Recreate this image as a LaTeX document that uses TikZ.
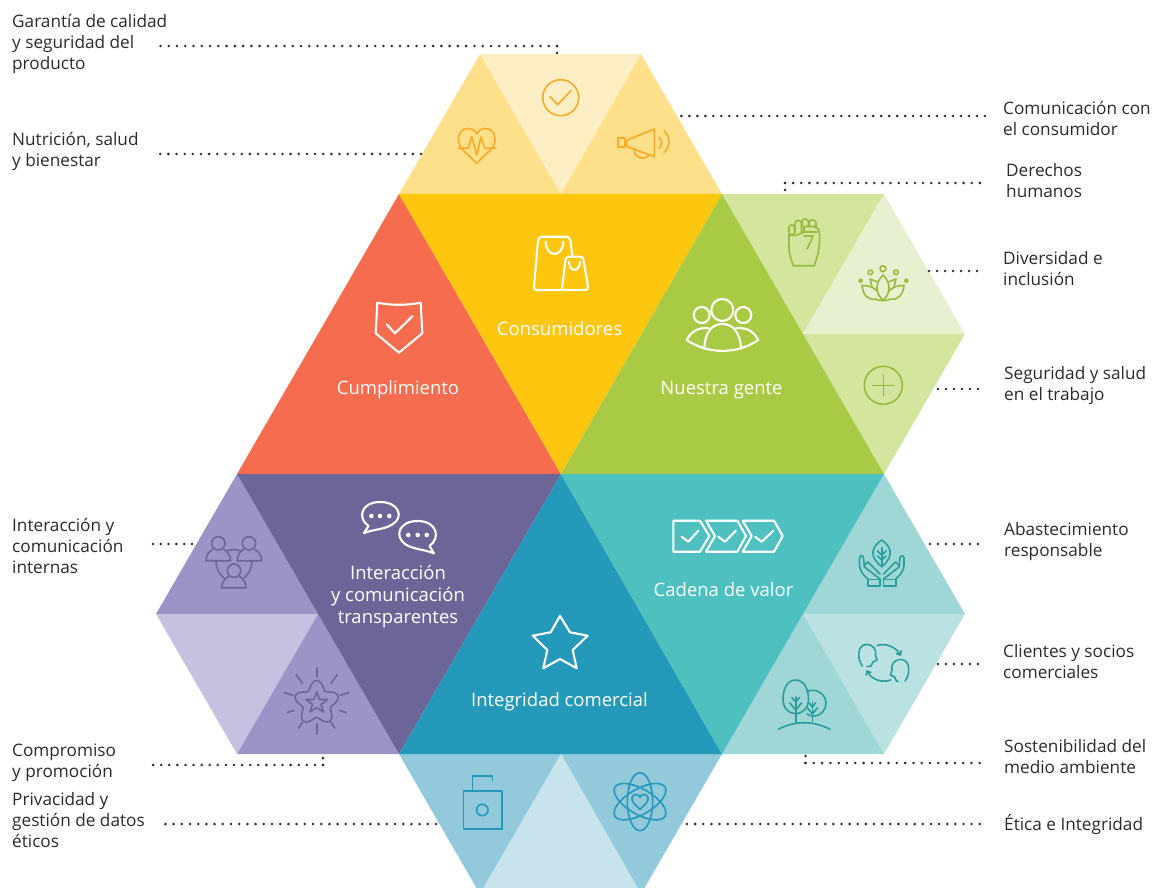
\documentclass[tikz,border=0pt]{standalone}
\usepackage{fontspec}
\setmainfont{Open Sans}
\usetikzlibrary{arrows.meta}
\definecolor{cOr}{HTML}{F56C4E}
\definecolor{cYe}{HTML}{FFC60F}
\definecolor{cYeA}{HTML}{FEE08A}
\definecolor{cYeB}{HTML}{FDEFC3}
\definecolor{cYeI}{HTML}{FBA926}
\definecolor{cGr}{HTML}{A9CA44}
\definecolor{cGrA}{HTML}{D4E59E}
\definecolor{cGrB}{HTML}{E8F1CF}
\definecolor{cGrI}{HTML}{98B93E}
\definecolor{cPu}{HTML}{6C6698}
\definecolor{cPuA}{HTML}{9C94C6}
\definecolor{cPuB}{HTML}{C5C2E1}
\definecolor{cBl}{HTML}{2499BA}
\definecolor{cBlA}{HTML}{92C9DB}
\definecolor{cBlB}{HTML}{C7E4ED}
\definecolor{cTe}{HTML}{4EC0C0}
\definecolor{cTeA}{HTML}{9ED7D5}
\definecolor{cTeB}{HTML}{BBE2E3}
\definecolor{cTeI}{HTML}{2A9D9C}
\definecolor{cTx}{HTML}{2B2B2B}
\tikzset{
  x=1pt,y=-1pt,
  lab/.style={anchor=west,inner sep=0pt,align=left,text=cTx,font=\fontsize{17.2}{21}\selectfont},
  mainlab/.style={inner sep=0pt,align=center,text=white,font=\fontsize{18.5}{22}\selectfont},
  leader/.style={draw=cTx,line width=2.8pt,line cap=round,dash pattern=on 0pt off #1},
  wicon/.style={draw=white,line width=2.1pt,line join=round,line cap=round},
  icon/.style={line width=1.6pt,line join=round,line cap=round},
  yicon/.style={icon,draw=cYeI},
  gicon/.style={icon,draw=cGrI},
  picon/.style={icon,draw=cPu},
  ticon/.style={icon,draw=cTeI},
  bicon/.style={icon,draw=cBl}
}
\begin{document}
\begin{tikzpicture}
\useasboundingbox (0,0) rectangle (1168,888);
\clip (0,0) rectangle (1168,888);
% outer triangles
\fill[cYeA] (399,194)--(561,194)--(480,54)--cycle;
\fill[cYeB] (480,54)--(641,54)--(561,194)--cycle;
\fill[cYeA] (561,194)--(722,194)--(641,54)--cycle;
\fill[cGrA] (722,194)--(884,194)--(803,334)--cycle;
\fill[cGrB] (884,194)--(965,334)--(803,334)--cycle;
\fill[cGrA] (803,334)--(965,334)--(884,474)--cycle;
\fill[cTeA] (884,474)--(965,614)--(803,614)--cycle;
\fill[cTeB] (803,614)--(965,614)--(884,754)--cycle;
\fill[cTeA] (803,614)--(884,754)--(722,754)--cycle;
\fill[cBlA] (399,754)--(561,754)--(480,894)--cycle;
\fill[cBlA] (561,754)--(722,754)--(641,894)--cycle;
\fill[cBlB] (480,894)--(641,894)--(561,754)--cycle;
\fill[cPuA] (237,474)--(318,614)--(156,614)--cycle;
\fill[cPuB] (156,614)--(318,614)--(237,754)--cycle;
\fill[cPuA] (318,614)--(399,754)--(237,754)--cycle;
% main triangles
\fill[cOr] (237,474)--(561,474)--(399,194)--cycle;
\fill[cYe] (399,194)--(722,194)--(561,474)--cycle;
\fill[cGr] (561,474)--(884,474)--(722,194)--cycle;
\fill[cPu] (237,474)--(561,474)--(399,754)--cycle;
\fill[cBl] (399,754)--(722,754)--(561,474)--cycle;
\fill[cTe] (561,474)--(884,474)--(722,754)--cycle;
% main labels
\node[mainlab] (mCum) at (398,390) {Cumplimiento};
\node[mainlab] (mCon) at (559.5,329) {Consumidores};
\node[mainlab] (mGen) at (721.5,390) {Nuestra gente};
\node[mainlab] (mInt) at (398,597) {Interacción\\y comunicación\\transparentes};
\node[mainlab] (mCom) at (559.5,702) {Integridad comercial};
\node[mainlab] (mCad) at (723.5,590) {Cadena de valor};
% outer labels
\node[lab] (a1) at (12,44) {Garantía de calidad\\y seguridad del\\producto};
\node[lab] (a2) at (12,151.5) {Nutrición, salud\\y bienestar};
\node[lab] (a3) at (1003,118.5) {Comunicación con\\el consumidor};
\node[lab] (a4) at (1006,180.5) {Derechos\\humanos};
\node[lab] (a5) at (1003,268.5) {Diversidad e\\inclusión};
\node[lab] (a6) at (1004,385.5) {Seguridad y salud\\en el trabajo};
\node[lab] (a7) at (12,546) {Interacción y\\comunicación\\internas};
\node[lab] (a8) at (12,762.5) {Compromiso\\y promoción};
\node[lab] (a9) at (12,820) {Privacidad y\\gestión de datos\\éticos};
\node[lab] (a10) at (1004,541.5) {Abastecimiento\\responsable};
\node[lab] (a11) at (1003,661.5) {Clientes y socios\\comerciales};
\node[lab] (a12) at (1004,756.5) {Sostenibilidad del\\medio ambiente};
\node[lab] (a13) at (1004,825) {Ética e Integridad};
% leaders
\coordinate (s1) at (160,46); \coordinate (k1) at (557,46); \coordinate (e1) at (557,53);
\draw[leader=8.26pt] (k1)--(s1);
\draw[leader=6.9pt] (k1)--(e1);
\coordinate (s2) at (160,154); \coordinate (e2) at (421,154);
\draw[leader=8.15pt] (e2)--(s2);
\coordinate (s3) at (985,116); \coordinate (e3) at (681,116);
\draw[leader=7.99pt] (s3)--(e3);
\coordinate (s4) at (980,183); \coordinate (k4) at (785,183); \coordinate (e4) at (785,190);
\draw[leader=8.12pt] (k4)--(s4);
\draw[leader=6.9pt] (k4)--(e4);
\coordinate (s5) at (977,271); \coordinate (e5) at (929,271);
\draw[leader=7.99pt] (s5)--(e5);
\coordinate (s6) at (978,389); \coordinate (e6) at (938,389);
\draw[leader=7.99pt] (s6)--(e6);
\coordinate (s7) at (153,544); \coordinate (e7) at (192,544);
\draw[leader=7.79pt] (s7)--(e7);
\coordinate (s8) at (153,765); \coordinate (k8) at (323,765); \coordinate (e8) at (323,758);
\draw[leader=8.09pt] (k8)--(s8);
\draw[leader=6.9pt] (k8)--(e8);
\coordinate (s9) at (165,824); \coordinate (e9) at (436,824);
\draw[leader=8.2pt] (e9)--(s9);
\coordinate (s10) at (978,544); \coordinate (e10) at (930,544);
\draw[leader=7.99pt] (s10)--(e10);
\coordinate (s11) at (978,664); \coordinate (e11) at (938,664);
\draw[leader=7.99pt] (s11)--(e11);
\coordinate (s12) at (980,763); \coordinate (k12) at (805.5,763); \coordinate (e12) at (805.5,756);
\draw[leader=8.3pt] (k12)--(s12);
\draw[leader=6.9pt] (k12)--(e12);
\coordinate (s13) at (980,824); \coordinate (e13) at (687,824);
\draw[leader=8.13pt] (e13)--(s13);
% --- white icons
% shield
\draw[wicon] (377.3,302.7) .. controls (392,305.5) and (406,305.5) .. (420.7,302.7) -- (422.3,333.3) -- (399,352.7) -- (375.7,333.3) -- cycle;
\draw[wicon] (386.7,324.3)--(395,333.3)--(412.7,316);
% bags
\draw[wicon] (562,290) -- (537,290) .. controls (534.5,290) and (533.5,288.5) .. (534,286) -- (538,241) .. controls (538.3,238) and (540,236.7) .. (542.5,236.7) -- (566,236.7) .. controls (569,236.7) and (570,238) .. (570.5,241) -- (572.5,256.7);
\draw[wicon] (545.7,241.7) .. controls (546,258) and (563,258) .. (563.3,241.7);
\draw[wicon] (562,288.5) -- (565.5,260) .. controls (565.8,257.8) and (567,256.7) .. (569,256.7) -- (580,256.7) .. controls (582.2,256.7) and (583.2,257.8) .. (583.5,260) -- (588,286.5) .. controls (588.3,288.7) and (587.3,290) .. (585,290) -- (563,290);
\draw[wicon] (569,261.7) .. controls (569.3,272.5) and (579.7,272.5) .. (580,261.7);
% people
\draw[wicon] (722.3,310) circle (11);
\draw[wicon] (701.7,315) circle (8);
\draw[wicon] (743.3,315) circle (8);
\draw[wicon] (704.3,348.5) .. controls (705,332) and (712,324) .. (722.3,324) .. controls (733,324) and (740,332) .. (741,348.5);
\draw[wicon] (686.7,340) .. controls (708,354.5) and (737,354.5) .. (758.3,340) .. controls (754,332) and (748,327.5) .. (736,328);
\draw[wicon] (686.7,340) .. controls (691,332) and (697,327.5) .. (708.5,328);
% chat
\draw[wicon] (364,533) -- (368.5,526) .. controls (357,518) and (361,502) .. (380,502) .. controls (399,502) and (404,517) .. (393,524) .. controls (385,529.5) and (375,529) .. (364,533) -- cycle;
\draw[wicon] (434,553.3) -- (429.5,546) .. controls (441,538) and (437,521) .. (417.7,521) .. controls (399,521) and (394,536) .. (405,544) .. controls (413,549.5) and (423,549) .. (434,553.3) -- cycle;
\foreach \p in {(371.3,516),(380,516),(389.3,516),(408.3,535),(417.7,535),(426.7,535)} \fill[white] \p circle (2.3);
% chevrons
\draw[wicon] (673.3,520.7)--(700,520.7)--(709.3,536)--(700,551.7)--(673.3,551.7)--cycle;
\draw[wicon] (706,520.7)--(737.3,520.7)--(746,536)--(737.3,551.7)--(706,551.7)--(715,536)--cycle;
\draw[wicon] (742.7,520.7)--(774,520.7)--(782.7,536)--(774,551.7)--(742.7,551.7)--(751.7,536)--cycle;
\draw[wicon] (681.7,536.7)--(688.3,541.7)--(698.3,530.7);
\draw[wicon] (718.3,536.7)--(725,541.7)--(736,530.7);
\draw[wicon] (755,536.7)--(761.7,541.7)--(773.3,530.7);
% star
\draw[wicon] (560,616)--(570,632.3)--(587.7,635.7)--(572.7,650)--(576.7,668.3)--(560,659)--(543.3,668.3)--(547.3,650)--(532.7,635.7)--(550.7,632.3)--cycle;
% --- yellow icons
\draw[yicon] (560.7,97.7) circle (18);
\draw[yicon] (550,96.7)--(557.7,104.7)--(571,90.7);
\draw[yicon] (476.7,163.3) -- (462,149) .. controls (456,142) and (457,128.5) .. (468.5,128.5) .. controls (472,128.5) and (475,130.5) .. (476.7,134) .. controls (478.5,130.5) and (481.5,128.5) .. (485,128.5) .. controls (496,128.5) and (497.5,142) .. (491.5,149) -- cycle;
\draw[yicon] (458.3,148.3)--(468.3,148.3)--(471.7,136.7)--(476.7,155)--(481,137.3)--(485,148.3)--(495.7,148.3);
\draw[yicon] (617.7,138.3) rectangle (625,147.3);
\draw[yicon] (627.3,140) -- (654.3,129) -- (654.3,156.7) -- (627.3,146.7) .. controls (626.3,144.5) and (626.3,142.2) .. (627.3,140) -- cycle;
\draw[yicon] (634.3,151) .. controls (634.5,159) and (647,160) .. (649,154.8);
\draw[yicon] (659.3,137.3) .. controls (662.3,141) and (662.3,145) .. (659.3,148.3);
\draw[yicon] (664,130.7) .. controls (670.5,137) and (670.5,146) .. (664,152.7);
% --- green icons
% fist
\draw[gicon] (793.3,265.7)--(814.3,265.7)--(818,254) .. controls (819.5,245) and (820,236) .. (819.5,233) .. controls (819,229) and (817,227) .. (814,226.5) -- (804,226.5) -- (804,232);
\draw[gicon] (793.3,265.7)--(790,256) .. controls (788.5,250) and (789,240) .. (789,235);
\draw[gicon,rounded corners=2.7pt] (789,225) rectangle (794.5,235);
\draw[gicon,rounded corners=3pt] (795,232)--(795,220.5)--(801.5,220.5)--(801.5,232);
\draw[gicon,rounded corners=3pt] (802,226)--(802,219)--(808.5,219)--(808.5,226);
\draw[gicon,rounded corners=3pt] (809,226)--(809,220)--(816,220)--(816,226.5);
\draw[gicon] (804,232)--(817,232);
\draw[gicon] (804,236)--(813,236)--(810,243)--(807,249);
\draw[gicon] (789,235) .. controls (793,237) and (800,234) .. (804,232);
% lotus
\draw[gicon] (883,275) .. controls (875,283) and (875,293) .. (883,300.5) .. controls (891,293) and (891,283) .. (883,275) -- cycle;
\draw[gicon] (876,299) .. controls (868,300.5) and (863,295) .. (862,285.5) .. controls (869,285.5) and (873,287) .. (877,291);
\draw[gicon] (890,299) .. controls (898,300.5) and (903,295) .. (904,285.5) .. controls (897,285.5) and (893,287) .. (889,291);
\draw[gicon] (872,287)--(870,279)--(878,282);
\draw[gicon] (894,287)--(896,279)--(888,282);
\draw[gicon] (876,299.5) .. controls (880,301) and (886,301) .. (890,299.5);
\draw[gicon] (883,268.7) circle (3);
\draw[gicon] (870.3,272.3) circle (2.3);
\draw[gicon] (896,272.3) circle (2.3);
\draw[gicon] (860.7,280.7) circle (1.7);
\draw[gicon] (906.3,280.7) circle (1.7);
% plus
\draw[gicon] (883.3,385.3) circle (19);
\draw[gicon] (872.6,385.3)--(894,385.3);
\draw[gicon] (883.3,374.6)--(883.3,396);
% --- purple icons
\draw[picon] (218.3,543.3) circle (6.7);
\draw[picon] (249,543.3) circle (6.7);
\draw[picon] (234,570.7) circle (6.7);
\draw[picon] (206,560.7)--(230.7,560.7) .. controls (230.7,555) and (227,551.5) .. (224,549.5);
\draw[picon] (206,560.7) .. controls (206,555) and (209,551.5) .. (212.5,549.5);
\draw[picon] (237.3,560.7)--(261.7,560.7) .. controls (261.7,555) and (258.5,551.5) .. (255,549.5);
\draw[picon] (237.3,560.7) .. controls (237.3,555) and (240,551.5) .. (243.5,549.5);
\draw[picon] (221.7,587.7)--(246,587.7) .. controls (246,582) and (243,578.5) .. (239.5,576.5);
\draw[picon] (221.7,587.7) .. controls (221.7,582) and (225,578.5) .. (228.5,576.5);
\draw[picon] (227,551) .. controls (231,549) and (236,549) .. (241,551);
\draw[picon] (216,561) .. controls (216,569) and (220,575) .. (224,578);
\draw[picon] (252,561) .. controls (252,569) and (248,575) .. (244,578);
% burst
\draw[picon] plot[smooth cycle,samples=61,domain=0:354] ({316.7+(18.5+4*cos(5*(\x-90)))*cos(\x)},{703-(18.5+4*cos(5*(\x-90)))*sin(\x)});
\draw[picon] (316.7,692)--(319.5,699.5)--(327.5,699.5)--(321,704.5)--(323.5,712)--(316.7,707.5)--(310,712)--(312.5,704.5)--(306,699.5)--(314,699.5)--cycle;
\foreach \a/\ra/\rb in {90/26/35,126/24/35,162/25/34,198/24/31,234/24/31,270/21/31,306/24/31,342/24/31,18/25/34,54/24/35}
  \draw[picon] ({316.7+\ra*cos(\a)},{703-\ra*sin(\a)})--({316.7+\rb*cos(\a)},{703-\rb*sin(\a)});
% --- teal icons
% hands and leaf
\draw[ticon] (881.7,540) .. controls (871,547) and (869,557) .. (881.7,566.7) .. controls (894,557) and (892,547) .. (881.7,540) -- cycle;
\draw[ticon] (881.7,548)--(881.7,566);
\draw[ticon] (877.5,551)--(881.7,555)--(886,551);
\draw[ticon] (877.5,556)--(881.7,560)--(886,556);
\draw[ticon] (867.7,579.3) rectangle (880,585.7);
\draw[ticon] (883.3,579.3) rectangle (895.7,585.7);
\draw[ticon] (868,579) .. controls (862,574) and (859,570) .. (859.5,562) -- (859.5,558) .. controls (860,555) and (863,555) .. (863.5,558) -- (864.5,567) -- (880,579);
\draw[ticon] (864,566) -- (868,562) -- (880,574);
\draw[ticon] (895.4,579) .. controls (901.5,574) and (904.5,570) .. (904,562) -- (904,558) .. controls (903.5,555) and (900.5,555) .. (900,558) -- (899,567) -- (883.5,579);
\draw[ticon] (899.5,566) -- (895.5,562) -- (883.5,574);
% persons with arrows
\draw[ticon] (862.5,666) .. controls (857,660) and (857,645) .. (866,644.5) .. controls (873,644) and (877,650) .. (875.5,655) -- (877,660) -- (873,662) -- (871,666) -- (867,666.5);
\draw[ticon] (905,681) .. controls (910.5,675) and (910.5,660) .. (901.5,659.5) .. controls (894.5,659) and (890.5,665) .. (892,670) -- (890.5,675) -- (894.5,677) -- (896.5,681) -- (898,681.5);
\draw[ticon,-{Straight Barb[length=3.5pt,width=6pt]}] (877,645.5) .. controls (885,643) and (895,646) .. (901,656);
\draw[ticon,-{Straight Barb[length=3.5pt,width=6pt]}] (891,680) .. controls (882,683) and (872,680) .. (866.5,670);
% trees
\draw[ticon] (795.7,680) .. controls (786,680) and (783,691) .. (783,699) .. controls (783,708) and (788,713.5) .. (795.7,713.5) .. controls (803,713.5) and (808.5,708) .. (808.5,699) .. controls (808.5,691) and (805,680) .. (795.7,680) -- cycle;
\draw[ticon] (806.5,691.5) .. controls (818,687) and (826,696) .. (826,703) .. controls (826,710) and (821,716) .. (813.5,716) .. controls (811,716) and (809,715.5) .. (807,714);
\draw[ticon] (795.7,697)--(795.7,723);
\draw[ticon] (790,703)--(795.7,710)--(801.5,703);
\draw[ticon] (792,697.5)--(795.7,702)--(799.5,697.5);
\draw[ticon] (812.3,702)--(812.3,722);
\draw[ticon] (807.5,708)--(812.3,714)--(817.5,708);
\draw[ticon] (809.5,703)--(812.3,707)--(815.5,703);
\draw[ticon] (778.3,729.3) .. controls (795,720.5) and (813,720.5) .. (830,729.3);
% --- blue icons
\draw[bicon] (463.3,791) rectangle (501.7,829);
\draw[bicon] (482.3,810) circle (5.7);
\draw[bicon] (472.3,791)--(472.3,775.7)--(492.3,775.7)--(492.3,780.7);
\draw[bicon] (640,801.7) ellipse[x radius=12.7,y radius=29];
\draw[bicon,rotate around={60:(640,801.7)}] (640,801.7) ellipse[x radius=12.7,y radius=29];
\draw[bicon,rotate around={-60:(640,801.7)}] (640,801.7) ellipse[x radius=12.7,y radius=29];
\draw[bicon] (640,809.5) -- (633.5,803) .. controls (630,798) and (633,794.5) .. (636,794.5) .. controls (638,794.5) and (639,795.5) .. (640,797) .. controls (641,795.5) and (642,794.5) .. (644,794.5) .. controls (647,794.5) and (650,798) .. (646.5,803) -- cycle;
\end{tikzpicture}
\end{document}
